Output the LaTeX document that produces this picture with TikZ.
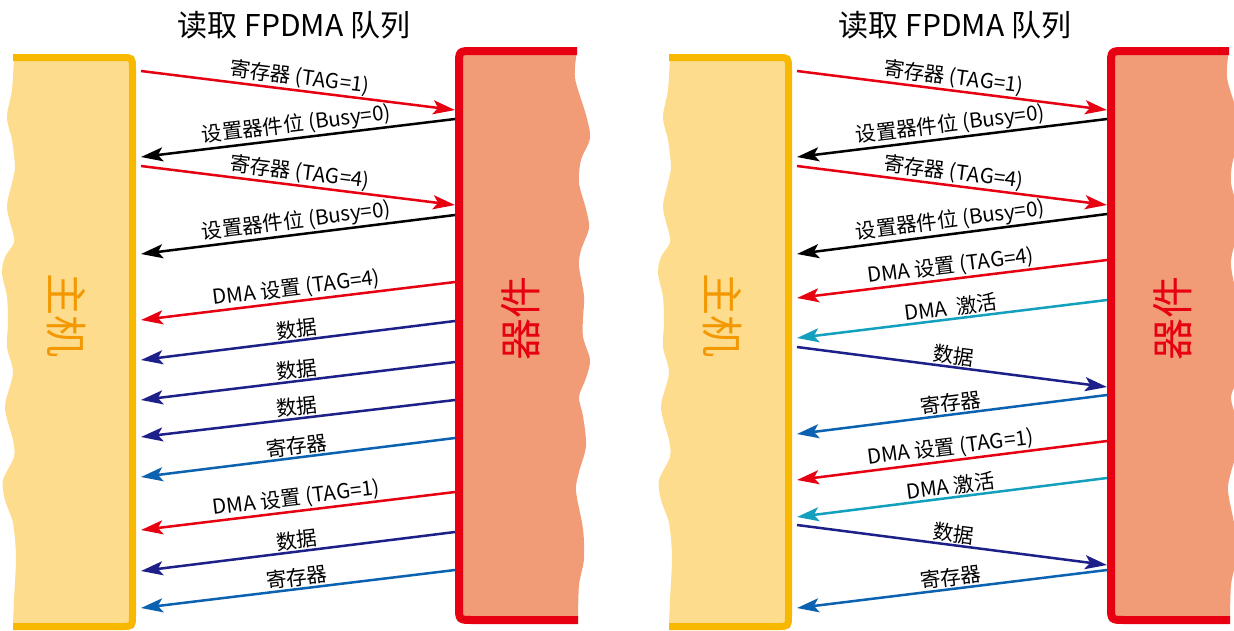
\documentclass[tikz,border=0pt]{standalone}
\usepackage{fontspec}
\setmainfont{Noto Sans CJK SC}
\usetikzlibrary{arrows.meta}
\definecolor{hostfill}{HTML}{FDDC8D}
\definecolor{hostline}{HTML}{F8B800}
\definecolor{hosttext}{HTML}{F39800}
\definecolor{devfill}{HTML}{F19B77}
\definecolor{devline}{HTML}{E60012}
\definecolor{cred}{HTML}{E60012}
\definecolor{cnavy}{HTML}{1D2088}
\definecolor{cblue}{HTML}{0B62B0}
\definecolor{cteal}{HTML}{12A0BE}
\tikzset{
  msg/.style={line width=2.5pt,-{Stealth[length=22pt,width=14pt,inset=5pt]}},
  lbl/.style={midway,above,sloped,inner sep=1pt,text=black,font=\fontsize{20.5}{20.5}\selectfont},
  titlefont/.style={font=\fontsize{30}{30}\selectfont},
  hostlbl/.style={font=\fontsize{42}{42}\selectfont,text=hosttext,rotate=-90,inner sep=0pt},
  devlbl/.style={font=\fontsize{42}{42}\selectfont,text=devline,rotate=90,inner sep=0pt},
}
\begin{document}
\begin{tikzpicture}[x=1pt,y=-1pt]
\clip (0,0) rectangle (1234,630);
\fill[white] (0,0) rectangle (1234,630);
% host blocks
\foreach \sx in {0,656}{
\begin{scope}[xshift=\sx pt]
\fill[hostfill] plot[smooth] coordinates {(14,57.5) (12,90) (7,117) (12,140) (15,167) (12,183) (7,207) (13,233) (14,243) (5,257) (2,273) (7,297) (8,323) (7,347) (13,373) (5,407) (13,440) (14,457) (3,480) (5,500) (13,523) (16,557) (14,600) (13,626.5)}
  -- (121.5,626.5) .. controls (132.5,626.5) .. (132.5,615.5) -- (132.5,68.5) .. controls (132.5,57.5) .. (121.5,57.5) -- cycle;
\draw[hostline,line width=7pt] (13,57.5) -- (121.5,57.5) .. controls (132.5,57.5) .. (132.5,68.5) -- (132.5,615.5) .. controls (132.5,626.5) .. (121.5,626.5) -- (13,626.5);
\end{scope}}
% device blocks
\foreach \sx in {0,652}{
\begin{scope}[xshift=\sx pt]
\fill[devfill] plot[smooth] coordinates {(577,51) (575,78) (586,115) (590,138) (581,160) (579,183) (586,209) (589,228) (581,250) (579,266) (584,296) (583,318) (583,337) (590,360) (586,378) (579,397) (583,416) (586,446) (579,472) (576,491) (583,529) (584,559) (579,585) (578,620)}
  -- (473,620) .. controls (459,620) .. (459,606) -- (459,65) .. controls (459,51) .. (473,51) -- cycle;
\draw[devline,line width=8pt] (577,51) -- (473,51) .. controls (459,51) .. (459,65) -- (459,606) .. controls (459,620) .. (473,620) -- (578,620);
\end{scope}}
% titles and big labels
\node[titlefont] (titleL) at (294,25) {读取 FPDMA 队列};
\node[titlefont] (titleR) at (955,25) {读取 FPDMA 队列};
\node[hostlbl] (hostL) at (66,315) {主机};
\node[hostlbl] (hostR) at (722,315) {主机};
\node[devlbl] (devL) at (521,318) {器件};
\node[devlbl] (devR) at (1173,318) {器件};
% left panel coordinates
\coordinate (lh1) at (141,71);  \coordinate (ld1) at (455,110);
\coordinate (ld2) at (455,119); \coordinate (lh2) at (141,157);
\coordinate (lh3) at (141,166); \coordinate (ld3) at (455,205);
\coordinate (ld4) at (455,215); \coordinate (lh4) at (141,254);
\coordinate (ld5) at (455,282); \coordinate (lh5) at (141,320);
\coordinate (ld6) at (455,321); \coordinate (lh6) at (141,360);
\coordinate (ld7) at (455,362); \coordinate (lh7) at (141,400);
\coordinate (ld8) at (455,400); \coordinate (lh8) at (141,437);
\coordinate (ld9) at (455,438); \coordinate (lh9) at (141,477);
\coordinate (ld10) at (455,492); \coordinate (lh10) at (141,530);
\coordinate (ld11) at (455,532); \coordinate (lh11) at (141,571);
\coordinate (ld12) at (455,570); \coordinate (lh12) at (141,608);
\draw[msg,cred] (lh1) -- (ld1) node[lbl] (la1) {寄存器 (TAG=1)};
\draw[msg,black] (ld2) -- (lh2) node[lbl] (la2) {设置器件位 (Busy=0)};
\draw[msg,cred] (lh3) -- (ld3) node[lbl] (la3) {寄存器 (TAG=4)};
\draw[msg,black] (ld4) -- (lh4) node[lbl] (la4) {设置器件位 (Busy=0)};
\draw[msg,cred] (ld5) -- (lh5) node[lbl] (la5) {DMA 设置 (TAG=4)};
\draw[msg,cnavy] (ld6) -- (lh6) node[lbl] (la6) {数据};
\draw[msg,cnavy] (ld7) -- (lh7) node[lbl] (la7) {数据};
\draw[msg,cnavy] (ld8) -- (lh8) node[lbl] (la8) {数据};
\draw[msg,cblue] (ld9) -- (lh9) node[lbl] (la9) {寄存器};
\draw[msg,cred] (ld10) -- (lh10) node[lbl] (la10) {DMA 设置 (TAG=1)};
\draw[msg,cnavy] (ld11) -- (lh11) node[lbl] (la11) {数据};
\draw[msg,cblue] (ld12) -- (lh12) node[lbl] (la12) {寄存器};
% right panel coordinates
\coordinate (rh1) at (797,71);  \coordinate (rd1) at (1107,110);
\coordinate (rd2) at (1107,119); \coordinate (rh2) at (797,157);
\coordinate (rh3) at (797,166); \coordinate (rd3) at (1107,205);
\coordinate (rd4) at (1107,214); \coordinate (rh4) at (797,254);
\coordinate (rd5) at (1107,260); \coordinate (rh5) at (797,298);
\coordinate (rd6) at (1107,300); \coordinate (rh6) at (797,338);
\coordinate (rh7) at (797,347); \coordinate (rd7) at (1107,387);
\coordinate (rd8) at (1107,395); \coordinate (rh8) at (797,434);
\coordinate (rd9) at (1107,441); \coordinate (rh9) at (797,480);
\coordinate (rd10) at (1107,478); \coordinate (rh10) at (797,517);
\coordinate (rh11) at (797,525); \coordinate (rd11) at (1107,565);
\coordinate (rd12) at (1107,570); \coordinate (rh12) at (797,608);
\draw[msg,cred] (rh1) -- (rd1) node[lbl] (ra1) {寄存器 (TAG=1)};
\draw[msg,black] (rd2) -- (rh2) node[lbl] (ra2) {设置器件位 (Busy=0)};
\draw[msg,cred] (rh3) -- (rd3) node[lbl] (ra3) {寄存器 (TAG=4)};
\draw[msg,black] (rd4) -- (rh4) node[lbl] (ra4) {设置器件位 (Busy=0)};
\draw[msg,cred] (rd5) -- (rh5) node[lbl] (ra5) {DMA 设置 (TAG=4)};
\draw[msg,cteal] (rd6) -- (rh6) node[lbl] (ra6) {DMA\ \ 激活};
\draw[msg,cnavy] (rh7) -- (rd7) node[lbl] (ra7) {数据};
\draw[msg,cblue] (rd8) -- (rh8) node[lbl] (ra8) {寄存器};
\draw[msg,cred] (rd9) -- (rh9) node[lbl] (ra9) {DMA 设置 (TAG=1)};
\draw[msg,cteal] (rd10) -- (rh10) node[lbl] (ra10) {DMA 激活};
\draw[msg,cnavy] (rh11) -- (rd11) node[lbl] (ra11) {数据};
\draw[msg,cblue] (rd12) -- (rh12) node[lbl] (ra12) {寄存器};
\end{tikzpicture}
\end{document}
